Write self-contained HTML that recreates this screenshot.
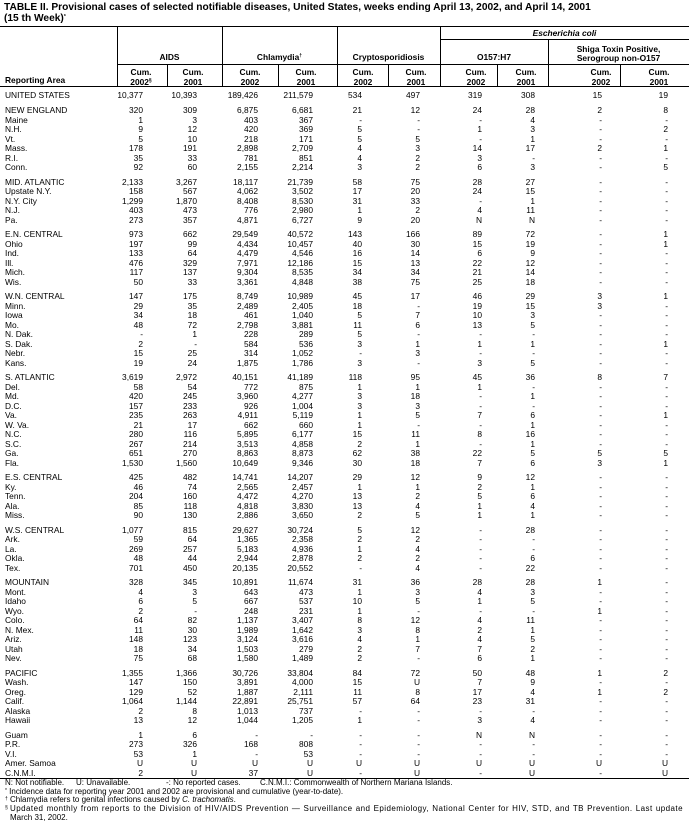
<!DOCTYPE html>
<html><head><meta charset="utf-8">
<style>
*{margin:0;padding:0}
body{width:689px;height:824px;position:relative;background:#fff;font-family:"Liberation Sans",Arial,sans-serif;color:#000;overflow:hidden}
.t{position:absolute;left:4px;font-weight:bold;font-size:10.2px;line-height:11px;white-space:nowrap}
.h{position:absolute;height:1px;background:#000}
.v{position:absolute;width:1px;background:#000}
.c{position:absolute;text-align:center;font-weight:bold;font-size:8.4px;line-height:9.5px;white-space:nowrap}
.s{position:absolute;text-align:center;font-weight:bold;font-size:8.4px;line-height:10px;white-space:nowrap;width:60px}
sup{font-size:5px;line-height:0;vertical-align:3px}
#d{position:absolute;left:0;top:90.6px;width:689px;font-size:8.4px;line-height:9.5px}
.r{position:relative;height:9.5px;white-space:nowrap}
.r i{position:absolute;top:0;font-style:normal}
.r i:nth-child(1){left:5px}
.r i:nth-child(2){right:546px}
.r i:nth-child(3){right:492px}
.r i:nth-child(4){right:431px}
.r i:nth-child(5){right:376px}
.r i:nth-child(6){right:327px}
.r i:nth-child(7){right:269px}
.r i:nth-child(8){right:207px}
.r i:nth-child(9){right:154px}
.r i:nth-child(10){right:87px}
.r i:nth-child(11){right:21px}
.g{margin-top:5px}
.g1{margin-top:6.1px}
.f{position:absolute;font-size:8px;line-height:8.6px;white-space:nowrap}
.f sup{font-size:5px;vertical-align:2px}
.j{position:absolute;left:10px;width:673px;font-size:8px;line-height:8.6px;white-space:nowrap;letter-spacing:0.45px;text-align:justify;text-align-last:justify}
</style></head><body>

<div class="t" style="top:1.5px">TABLE II. Provisional cases of selected notifiable diseases, United States, weeks ending April 13, 2002, and April 14, 2001</div>
<div class="t" style="top:12.5px">(15 th Week)<sup>*</sup></div>

<div class="h" style="top:26px;left:0;width:689px"></div>
<div class="h" style="top:39px;left:440px;width:249px"></div>
<div class="h" style="top:64px;left:117px;width:572px"></div>
<div class="h" style="top:86px;left:0;width:689px"></div>
<div class="h" style="top:778px;left:0;width:689px"></div>

<div class="v" style="left:117px;top:26px;height:61px"></div>
<div class="v" style="left:222px;top:26px;height:61px"></div>
<div class="v" style="left:337px;top:26px;height:61px"></div>
<div class="v" style="left:440px;top:26px;height:61px"></div>
<div class="v" style="left:548px;top:39px;height:48px"></div>
<div class="v" style="left:167px;top:64px;height:23px"></div>
<div class="v" style="left:278px;top:64px;height:23px"></div>
<div class="v" style="left:388px;top:64px;height:23px"></div>
<div class="v" style="left:497px;top:64px;height:23px"></div>
<div class="v" style="left:620px;top:64px;height:23px"></div>

<div class="c" style="left:117px;width:105px;top:53.4px">AIDS</div>
<div class="c" style="left:222px;width:115px;top:53.4px">Chlamydia<sup>†</sup></div>
<div class="c" style="left:337px;width:103px;top:53.4px">Cryptosporidiosis</div>
<div class="c" style="left:440px;width:249px;top:29.3px;font-style:italic">Escherichia coli</div>
<div class="c" style="left:440px;width:108px;top:53.4px">O157:H7</div>
<div class="c" style="left:548px;width:141px;top:44.8px;line-height:9px">Shiga Toxin Positive,<br>Serogroup non-O157</div>
<div class="c" style="left:5px;top:76.3px;text-align:left">Reporting Area</div>

<div class="s" style="left:111px;top:66.5px">Cum.<br>2002<sup>§</sup></div>
<div class="s" style="left:163px;top:66.5px">Cum.<br>2001</div>
<div class="s" style="left:220px;top:66.5px">Cum.<br>2002</div>
<div class="s" style="left:276px;top:66.5px">Cum.<br>2001</div>
<div class="s" style="left:333px;top:66.5px">Cum.<br>2002</div>
<div class="s" style="left:386px;top:66.5px">Cum.<br>2001</div>
<div class="s" style="left:446px;top:66.5px">Cum.<br>2002</div>
<div class="s" style="left:496px;top:66.5px">Cum.<br>2001</div>
<div class="s" style="left:571px;top:66.5px">Cum.<br>2002</div>
<div class="s" style="left:629px;top:66.5px">Cum.<br>2001</div>

<div id="d">
<div class="r"><i>UNITED STATES</i><i>10,377</i><i>10,393</i><i>189,426</i><i>211,579</i><i>534</i><i>497</i><i>319</i><i>308</i><i>15</i><i>19</i></div>

<div class="r g1"><i>NEW ENGLAND</i><i>320</i><i>309</i><i>6,875</i><i>6,681</i><i>21</i><i>12</i><i>24</i><i>28</i><i>2</i><i>8</i></div>
<div class="r"><i>Maine</i><i>1</i><i>3</i><i>403</i><i>367</i><i>-</i><i>-</i><i>-</i><i>4</i><i>-</i><i>-</i></div>
<div class="r"><i>N.H.</i><i>9</i><i>12</i><i>420</i><i>369</i><i>5</i><i>-</i><i>1</i><i>3</i><i>-</i><i>2</i></div>
<div class="r"><i>Vt.</i><i>5</i><i>10</i><i>218</i><i>171</i><i>5</i><i>5</i><i>-</i><i>1</i><i>-</i><i>-</i></div>
<div class="r"><i>Mass.</i><i>178</i><i>191</i><i>2,898</i><i>2,709</i><i>4</i><i>3</i><i>14</i><i>17</i><i>2</i><i>1</i></div>
<div class="r"><i>R.I.</i><i>35</i><i>33</i><i>781</i><i>851</i><i>4</i><i>2</i><i>3</i><i>-</i><i>-</i><i>-</i></div>
<div class="r"><i>Conn.</i><i>92</i><i>60</i><i>2,155</i><i>2,214</i><i>3</i><i>2</i><i>6</i><i>3</i><i>-</i><i>5</i></div>

<div class="r g"><i>MID. ATLANTIC</i><i>2,133</i><i>3,267</i><i>18,117</i><i>21,739</i><i>58</i><i>75</i><i>28</i><i>27</i><i>-</i><i>-</i></div>
<div class="r"><i>Upstate N.Y.</i><i>158</i><i>567</i><i>4,062</i><i>3,502</i><i>17</i><i>20</i><i>24</i><i>15</i><i>-</i><i>-</i></div>
<div class="r"><i>N.Y. City</i><i>1,299</i><i>1,870</i><i>8,408</i><i>8,530</i><i>31</i><i>33</i><i>-</i><i>1</i><i>-</i><i>-</i></div>
<div class="r"><i>N.J.</i><i>403</i><i>473</i><i>776</i><i>2,980</i><i>1</i><i>2</i><i>4</i><i>11</i><i>-</i><i>-</i></div>
<div class="r"><i>Pa.</i><i>273</i><i>357</i><i>4,871</i><i>6,727</i><i>9</i><i>20</i><i>N</i><i>N</i><i>-</i><i>-</i></div>

<div class="r g"><i>E.N. CENTRAL</i><i>973</i><i>662</i><i>29,549</i><i>40,572</i><i>143</i><i>166</i><i>89</i><i>72</i><i>-</i><i>1</i></div>
<div class="r"><i>Ohio</i><i>197</i><i>99</i><i>4,434</i><i>10,457</i><i>40</i><i>30</i><i>15</i><i>19</i><i>-</i><i>1</i></div>
<div class="r"><i>Ind.</i><i>133</i><i>64</i><i>4,479</i><i>4,546</i><i>16</i><i>14</i><i>6</i><i>9</i><i>-</i><i>-</i></div>
<div class="r"><i>Ill.</i><i>476</i><i>329</i><i>7,971</i><i>12,186</i><i>15</i><i>13</i><i>22</i><i>12</i><i>-</i><i>-</i></div>
<div class="r"><i>Mich.</i><i>117</i><i>137</i><i>9,304</i><i>8,535</i><i>34</i><i>34</i><i>21</i><i>14</i><i>-</i><i>-</i></div>
<div class="r"><i>Wis.</i><i>50</i><i>33</i><i>3,361</i><i>4,848</i><i>38</i><i>75</i><i>25</i><i>18</i><i>-</i><i>-</i></div>

<div class="r g"><i>W.N. CENTRAL</i><i>147</i><i>175</i><i>8,749</i><i>10,989</i><i>45</i><i>17</i><i>46</i><i>29</i><i>3</i><i>1</i></div>
<div class="r"><i>Minn.</i><i>29</i><i>35</i><i>2,489</i><i>2,405</i><i>18</i><i>-</i><i>19</i><i>15</i><i>3</i><i>-</i></div>
<div class="r"><i>Iowa</i><i>34</i><i>18</i><i>461</i><i>1,040</i><i>5</i><i>7</i><i>10</i><i>3</i><i>-</i><i>-</i></div>
<div class="r"><i>Mo.</i><i>48</i><i>72</i><i>2,798</i><i>3,881</i><i>11</i><i>6</i><i>13</i><i>5</i><i>-</i><i>-</i></div>
<div class="r"><i>N. Dak.</i><i>-</i><i>1</i><i>228</i><i>289</i><i>5</i><i>-</i><i>-</i><i>-</i><i>-</i><i>-</i></div>
<div class="r"><i>S. Dak.</i><i>2</i><i>-</i><i>584</i><i>536</i><i>3</i><i>1</i><i>1</i><i>1</i><i>-</i><i>1</i></div>
<div class="r"><i>Nebr.</i><i>15</i><i>25</i><i>314</i><i>1,052</i><i>-</i><i>3</i><i>-</i><i>-</i><i>-</i><i>-</i></div>
<div class="r"><i>Kans.</i><i>19</i><i>24</i><i>1,875</i><i>1,786</i><i>3</i><i>-</i><i>3</i><i>5</i><i>-</i><i>-</i></div>

<div class="r g"><i>S. ATLANTIC</i><i>3,619</i><i>2,972</i><i>40,151</i><i>41,189</i><i>118</i><i>95</i><i>45</i><i>36</i><i>8</i><i>7</i></div>
<div class="r"><i>Del.</i><i>58</i><i>54</i><i>772</i><i>875</i><i>1</i><i>1</i><i>1</i><i>-</i><i>-</i><i>-</i></div>
<div class="r"><i>Md.</i><i>420</i><i>245</i><i>3,960</i><i>4,277</i><i>3</i><i>18</i><i>-</i><i>1</i><i>-</i><i>-</i></div>
<div class="r"><i>D.C.</i><i>157</i><i>233</i><i>926</i><i>1,004</i><i>3</i><i>3</i><i>-</i><i>-</i><i>-</i><i>-</i></div>
<div class="r"><i>Va.</i><i>235</i><i>263</i><i>4,911</i><i>5,119</i><i>1</i><i>5</i><i>7</i><i>6</i><i>-</i><i>1</i></div>
<div class="r"><i>W. Va.</i><i>21</i><i>17</i><i>662</i><i>660</i><i>1</i><i>-</i><i>-</i><i>1</i><i>-</i><i>-</i></div>
<div class="r"><i>N.C.</i><i>280</i><i>116</i><i>5,895</i><i>6,177</i><i>15</i><i>11</i><i>8</i><i>16</i><i>-</i><i>-</i></div>
<div class="r"><i>S.C.</i><i>267</i><i>214</i><i>3,513</i><i>4,858</i><i>2</i><i>1</i><i>-</i><i>1</i><i>-</i><i>-</i></div>
<div class="r"><i>Ga.</i><i>651</i><i>270</i><i>8,863</i><i>8,873</i><i>62</i><i>38</i><i>22</i><i>5</i><i>5</i><i>5</i></div>
<div class="r"><i>Fla.</i><i>1,530</i><i>1,560</i><i>10,649</i><i>9,346</i><i>30</i><i>18</i><i>7</i><i>6</i><i>3</i><i>1</i></div>

<div class="r g"><i>E.S. CENTRAL</i><i>425</i><i>482</i><i>14,741</i><i>14,207</i><i>29</i><i>12</i><i>9</i><i>12</i><i>-</i><i>-</i></div>
<div class="r"><i>Ky.</i><i>46</i><i>74</i><i>2,565</i><i>2,457</i><i>1</i><i>1</i><i>2</i><i>1</i><i>-</i><i>-</i></div>
<div class="r"><i>Tenn.</i><i>204</i><i>160</i><i>4,472</i><i>4,270</i><i>13</i><i>2</i><i>5</i><i>6</i><i>-</i><i>-</i></div>
<div class="r"><i>Ala.</i><i>85</i><i>118</i><i>4,818</i><i>3,830</i><i>13</i><i>4</i><i>1</i><i>4</i><i>-</i><i>-</i></div>
<div class="r"><i>Miss.</i><i>90</i><i>130</i><i>2,886</i><i>3,650</i><i>2</i><i>5</i><i>1</i><i>1</i><i>-</i><i>-</i></div>

<div class="r g"><i>W.S. CENTRAL</i><i>1,077</i><i>815</i><i>29,627</i><i>30,724</i><i>5</i><i>12</i><i>-</i><i>28</i><i>-</i><i>-</i></div>
<div class="r"><i>Ark.</i><i>59</i><i>64</i><i>1,365</i><i>2,358</i><i>2</i><i>2</i><i>-</i><i>-</i><i>-</i><i>-</i></div>
<div class="r"><i>La.</i><i>269</i><i>257</i><i>5,183</i><i>4,936</i><i>1</i><i>4</i><i>-</i><i>-</i><i>-</i><i>-</i></div>
<div class="r"><i>Okla.</i><i>48</i><i>44</i><i>2,944</i><i>2,878</i><i>2</i><i>2</i><i>-</i><i>6</i><i>-</i><i>-</i></div>
<div class="r"><i>Tex.</i><i>701</i><i>450</i><i>20,135</i><i>20,552</i><i>-</i><i>4</i><i>-</i><i>22</i><i>-</i><i>-</i></div>

<div class="r g"><i>MOUNTAIN</i><i>328</i><i>345</i><i>10,891</i><i>11,674</i><i>31</i><i>36</i><i>28</i><i>28</i><i>1</i><i>-</i></div>
<div class="r"><i>Mont.</i><i>4</i><i>3</i><i>643</i><i>473</i><i>1</i><i>3</i><i>4</i><i>3</i><i>-</i><i>-</i></div>
<div class="r"><i>Idaho</i><i>6</i><i>5</i><i>667</i><i>537</i><i>10</i><i>5</i><i>1</i><i>5</i><i>-</i><i>-</i></div>
<div class="r"><i>Wyo.</i><i>2</i><i>-</i><i>248</i><i>231</i><i>1</i><i>-</i><i>-</i><i>-</i><i>1</i><i>-</i></div>
<div class="r"><i>Colo.</i><i>64</i><i>82</i><i>1,137</i><i>3,407</i><i>8</i><i>12</i><i>4</i><i>11</i><i>-</i><i>-</i></div>
<div class="r"><i>N. Mex.</i><i>11</i><i>30</i><i>1,989</i><i>1,642</i><i>3</i><i>8</i><i>2</i><i>1</i><i>-</i><i>-</i></div>
<div class="r"><i>Ariz.</i><i>148</i><i>123</i><i>3,124</i><i>3,616</i><i>4</i><i>1</i><i>4</i><i>5</i><i>-</i><i>-</i></div>
<div class="r"><i>Utah</i><i>18</i><i>34</i><i>1,503</i><i>279</i><i>2</i><i>7</i><i>7</i><i>2</i><i>-</i><i>-</i></div>
<div class="r"><i>Nev.</i><i>75</i><i>68</i><i>1,580</i><i>1,489</i><i>2</i><i>-</i><i>6</i><i>1</i><i>-</i><i>-</i></div>

<div class="r g"><i>PACIFIC</i><i>1,355</i><i>1,366</i><i>30,726</i><i>33,804</i><i>84</i><i>72</i><i>50</i><i>48</i><i>1</i><i>2</i></div>
<div class="r"><i>Wash.</i><i>147</i><i>150</i><i>3,891</i><i>4,000</i><i>15</i><i>U</i><i>7</i><i>9</i><i>-</i><i>-</i></div>
<div class="r"><i>Oreg.</i><i>129</i><i>52</i><i>1,887</i><i>2,111</i><i>11</i><i>8</i><i>17</i><i>4</i><i>1</i><i>2</i></div>
<div class="r"><i>Calif.</i><i>1,064</i><i>1,144</i><i>22,891</i><i>25,751</i><i>57</i><i>64</i><i>23</i><i>31</i><i>-</i><i>-</i></div>
<div class="r"><i>Alaska</i><i>2</i><i>8</i><i>1,013</i><i>737</i><i>-</i><i>-</i><i>-</i><i>-</i><i>-</i><i>-</i></div>
<div class="r"><i>Hawaii</i><i>13</i><i>12</i><i>1,044</i><i>1,205</i><i>1</i><i>-</i><i>3</i><i>4</i><i>-</i><i>-</i></div>

<div class="r g"><i>Guam</i><i>1</i><i>6</i><i>-</i><i>-</i><i>-</i><i>-</i><i>N</i><i>N</i><i>-</i><i>-</i></div>
<div class="r"><i>P.R.</i><i>273</i><i>326</i><i>168</i><i>808</i><i>-</i><i>-</i><i>-</i><i>-</i><i>-</i><i>-</i></div>
<div class="r"><i>V.I.</i><i>53</i><i>1</i><i>-</i><i>53</i><i>-</i><i>-</i><i>-</i><i>-</i><i>-</i><i>-</i></div>
<div class="r"><i>Amer. Samoa</i><i>U</i><i>U</i><i>U</i><i>U</i><i>U</i><i>U</i><i>U</i><i>U</i><i>U</i><i>U</i></div>
<div class="r"><i>C.N.M.I.</i><i>2</i><i>U</i><i>37</i><i>U</i><i>-</i><i>U</i><i>-</i><i>U</i><i>-</i><i>U</i></div>
</div>

<div class="f" style="top:779.2px;left:5px">N: Not notifiable.</div>
<div class="f" style="top:779.2px;left:76px">U: Unavailable.</div>
<div class="f" style="top:779.2px;left:166px">-: No reported cases.</div>
<div class="f" style="top:779.2px;left:260px">C.N.M.I.: Commonwealth of Northern Mariana Islands.</div>
<div class="f" style="top:787.8px;left:5px"><sup>*</sup> Incidence data for reporting year 2001 and 2002 are provisional and cumulative (year-to-date).</div>
<div class="f" style="top:796.4px;left:5px"><sup>†</sup> Chlamydia refers to genital infections caused by <i>C. trachomatis</i>.</div>
<div class="f" style="top:805px;left:5px"><sup>§</sup></div>
<div class="j" style="top:805px">Updated monthly from reports to the Division of HIV/AIDS Prevention — Surveillance and Epidemiology, National Center for HIV, STD, and TB Prevention. Last update</div>
<div class="f" style="top:813.6px;left:10px">March 31, 2002.</div>

</body></html>
